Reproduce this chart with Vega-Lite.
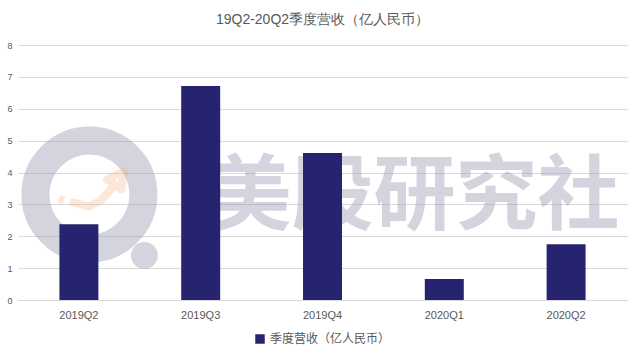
{
  "$schema": "https://vega.github.io/schema/vega-lite/v6.json",
  "width": 640,
  "height": 357,
  "autosize": {"type": "fit", "contains": "padding"},
  "padding": {"left": 6, "top": 13, "right": 13, "bottom": 12},
  "background": "white",
  "title": {
    "text": "19Q2-20Q2季度营收（亿人民币）",
    "fontSize": 14,
    "font": "Liberation Sans",
    "fontWeight": "normal",
    "color": "#595959",
    "anchor": "middle",
    "offset": 14
  },
  "config": {
    "view": {"stroke": null},
    "font": "Liberation Sans",
    "legend": {"layout": {"bottom": {"anchor": "middle"}}}
  },
  "data": {
    "values": [
      {"quarter": "2019Q2", "revenue": 2.38, "series": "季度营收（亿人民币）"},
      {"quarter": "2019Q3", "revenue": 6.71, "series": "季度营收（亿人民币）"},
      {"quarter": "2019Q4", "revenue": 4.61, "series": "季度营收（亿人民币）"},
      {"quarter": "2020Q1", "revenue": 0.66, "series": "季度营收（亿人民币）"},
      {"quarter": "2020Q2", "revenue": 1.75, "series": "季度营收（亿人民币）"}
    ]
  },
  "encoding": {
    "x": {
      "field": "quarter",
      "type": "nominal",
      "sort": null,
      "scale": {
        "domain": ["2019Q2", "2019Q3", "2019Q4", "2020Q1", "2020Q2"],
        "paddingInner": 0.68,
        "paddingOuter": 0.34
      },
      "axis": {
        "title": null,
        "labelAngle": 0,
        "ticks": false,
        "domainColor": "#d9d9d9",
        "labelColor": "#595959",
        "labelFontSize": 11,
        "labelPadding": 9
      }
    },
    "y": {
      "field": "revenue",
      "type": "quantitative",
      "scale": {"domain": [0, 8]},
      "axis": {
        "title": null,
        "values": [0, 1, 2, 3, 4, 5, 6, 7, 8],
        "domain": false,
        "ticks": false,
        "gridColor": "#d9d9d9",
        "labelColor": "#595959",
        "labelFontSize": 9,
        "labelPadding": 6
      }
    }
  },
  "layer": [
    {
      "data": {"values": [{"quarter": "2019Q4", "wm": "美股研究社", "v": 3.21}]},
      "mark": {
        "type": "text",
        "clip": true,
        "fontSize": 82,
        "font": "Noto Sans CJK SC",
        "fontWeight": "bold",
        "color": "#9a9ab4",
        "opacity": 0.42,
        "align": "center",
        "baseline": "middle",
        "dx": 92,
        "letterSpacing": 10
      },
      "encoding": {
        "x": {"field": "quarter", "type": "nominal"},
        "y": {"field": "v", "type": "quantitative"},
        "text": {"field": "wm"}
      }
    },
    {
      "data": {"values": [{"quarter": "2019Q2", "v": 3.31}]},
      "mark": {
        "type": "point",
        "clip": true,
        "shape": "M 64.5 0 A 54 54 0 1 1 -43.5 0 A 54 54 0 1 1 64.5 0 Z",
        "size": 4,
        "filled": false,
        "stroke": "#9a9ab4",
        "strokeWidth": 28,
        "opacity": 0.42
      },
      "encoding": {
        "x": {"field": "quarter", "type": "nominal"},
        "y": {"field": "v", "type": "quantitative"}
      }
    },
    {
      "data": {"values": [{"quarter": "2019Q2", "v": 3.31}]},
      "mark": {
        "type": "point",
        "clip": true,
        "shape": "M 79 61 A 13.5 13.5 0 1 1 52 61 A 13.5 13.5 0 1 1 79 61 Z",
        "size": 4,
        "filled": true,
        "color": "#9a9ab4",
        "opacity": 0.42
      },
      "encoding": {
        "x": {"field": "quarter", "type": "nominal"},
        "y": {"field": "v", "type": "quantitative"}
      }
    },
    {
      "data": {"values": [{"quarter": "2019Q2", "v": 3.31}]},
      "mark": {
        "type": "point",
        "clip": true,
        "shape": "M -20 4 L -15 6 M -9 7 L 10 12 L 22 6 L 36 -10 M 28 -15 L 45 -23 L 42 -5 Z",
        "size": 4,
        "filled": false,
        "stroke": "#f6b07a",
        "strokeWidth": 8,
        "strokeJoin": "round",
        "opacity": 0.28
      },
      "encoding": {
        "x": {"field": "quarter", "type": "nominal"},
        "y": {"field": "v", "type": "quantitative"}
      }
    },
    {
      "mark": {"type": "bar", "color": "#262470"},
      "encoding": {
        "color": {
          "field": "series",
          "type": "nominal",
          "scale": {"range": ["#262470"]},
          "legend": {
            "orient": "bottom",
            "title": null,
            "symbolType": "square",
            "symbolSize": 90,
            "labelFontSize": 12,
            "labelFont": "Noto Sans CJK SC",
            "labelColor": "#595959",
            "offset": 13
          }
        }
      }
    }
  ]
}
